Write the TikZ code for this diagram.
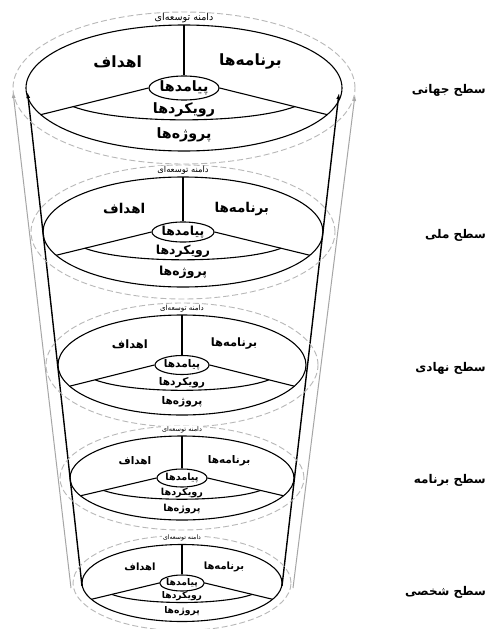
\documentclass[tikz,border=0pt]{standalone}
\usepackage{fontspec}
\usetikzlibrary{calc,arrows.meta,shapes.geometric}
\TeXXeTstate=1
\newfontfamily\fa[Script=Arabic]{DejaVu Sans}
\newcommand{\rtl}[1]{{\fa\beginR #1\endR}}
\tikzset{
  ell/.style={draw=black, line width=1.1pt},
  rng/.style={draw=black!28, line width=0.9pt, dash pattern=on 6pt off 3pt},
  smell/.style={ellipse, draw=black, line width=1.1pt, inner sep=0pt, fill=white},
  txt/.style={inner sep=0pt, text=black},
  cone/.style={draw=black, line width=1.4pt, -{Latex[length=6pt,width=4pt]}},
  gcone/.style={draw=black!35, line width=1pt, -{Latex[length=6pt,width=4pt]}},
}
\newcommand{\drawlevel}[9]{%
  \pgfmathsetmacro\cx{#2}\pgfmathsetmacro\cy{#3}%
  \pgfmathsetmacro\rx{#4}\pgfmathsetmacro\ry{#5}%
  \pgfmathsetmacro\drx{#4+#9}\pgfmathsetmacro\dry{#5+#9}%
  \pgfmathsetmacro\fs{#8}\pgfmathsetmacro\fss{#8*0.92}\pgfmathsetmacro\fsd{#8*0.62}%
  \pgfmathsetmacro\ff{(0.70*#4-#6)/(0.906*#4-#6)}%
  \coordinate (#1c) at (\cx,\cy);
  \draw[rng] (#1c) ellipse [x radius=\drx pt, y radius=\dry pt];
  \draw[ell] (#1c) ellipse [x radius=\rx pt, y radius=\ry pt];
  \coordinate (#1top) at (\cx,\cy-\ry);
  \coordinate (#1L) at (\cx-0.906*\rx,\cy+0.423*\ry);
  \coordinate (#1R) at (\cx+0.906*\rx,\cy+0.423*\ry);
  \node[smell, minimum width=#6*2pt, minimum height=#7*2pt,
        font={\fontsize{\fss}{\fss}\selectfont\bfseries}] (#1s) at (#1c) {\rtl{پیامدها}};
  \draw[ell] (#1top) -- (#1s.north);
  \draw[ell] (#1s.west) -- (#1L);
  \draw[ell] (#1s.east) -- (#1R);
  \coordinate (#1a) at ($(#1s.west)!\ff!(#1L)$);
  \coordinate (#1b) at ($(#1s.east)!\ff!(#1R)$);
  \draw[ell] (#1a) .. controls ($(#1a)+({0.3*\rx},{0.28*\ry})$) and ($(#1b)+({-0.3*\rx},{0.28*\ry})$) .. (#1b);
  \node[txt, font={\fontsize{\fs}{\fs}\selectfont\bfseries}] (#1g) at (\cx-0.42*\rx,\cy-0.42*\ry) {\rtl{اهداف}};
  \node[txt, font={\fontsize{\fs}{\fs}\selectfont\bfseries}] (#1p) at (\cx+0.42*\rx,\cy-0.42*\ry) {\rtl{برنامه^^^^200cها}};
  \node[txt, font={\fontsize{\fss}{\fss}\selectfont\bfseries}] (#1r) at (\cx,\cy+0.35*\ry) {\rtl{رویکردها}};
  \node[txt, font={\fontsize{\fss}{\fss}\selectfont\bfseries}] (#1j) at (\cx,\cy+0.74*\ry) {\rtl{پروژه^^^^200cها}};
  \node[txt, fill=white, inner xsep=1pt, font={\fontsize{\fsd}{\fsd}\selectfont}] (#1d) at (\cx,\cy-\ry-6.5) {\rtl{دامنه توسعه^^^^200cای}};
}
\begin{document}
\begin{tikzpicture}[x=1pt,y=-1pt]
\useasboundingbox (0,0) rectangle (487,629);
\fill[white] (0,0) rectangle (487,629);
% cone edges
\coordinate (gl0) at (71,588);
\coordinate (gl1) at (13,92);
\coordinate (gr0) at (293,588);
\coordinate (gr1) at (355,95);
\coordinate (kl0) at (82,586);
\coordinate (kl1) at (27.5,92);
\coordinate (kr0) at (282,586);
\coordinate (kr1) at (339,93);
\draw[gcone] (gl0) -- (gl1);
\draw[gcone] (gr0) -- (gr1);
\draw[cone] (kl0) -- (kl1);
\draw[cone] (kr0) -- (kr1);
% levels
\drawlevel{A}{184}{88}{158}{63}{35}{12}{15.5}{13}
\drawlevel{B}{183}{232}{140}{55}{31}{10}{13.5}{12}
\drawlevel{C}{182}{365}{124}{50}{27}{9.5}{11.5}{12}
\drawlevel{D}{182}{478}{112}{42}{25}{9}{10.5}{10}
\drawlevel{E}{182}{583}{100}{38.5}{22}{8}{10}{9}
% level labels
\tikzset{lvl/.style={txt, anchor=east, font={\fontsize{12}{12}\selectfont\bfseries}}}
\node[lvl] (s1) at (486,90) {\rtl{سطح جهانی}};
\node[lvl] (s2) at (486,235) {\rtl{سطح ملی}};
\node[lvl] (s3) at (486,368) {\rtl{سطح نهادی}};
\node[lvl] (s4) at (486,480) {\rtl{سطح برنامه}};
\node[lvl] (s5) at (486,592) {\rtl{سطح شخصی}};
\end{tikzpicture}
\end{document}
